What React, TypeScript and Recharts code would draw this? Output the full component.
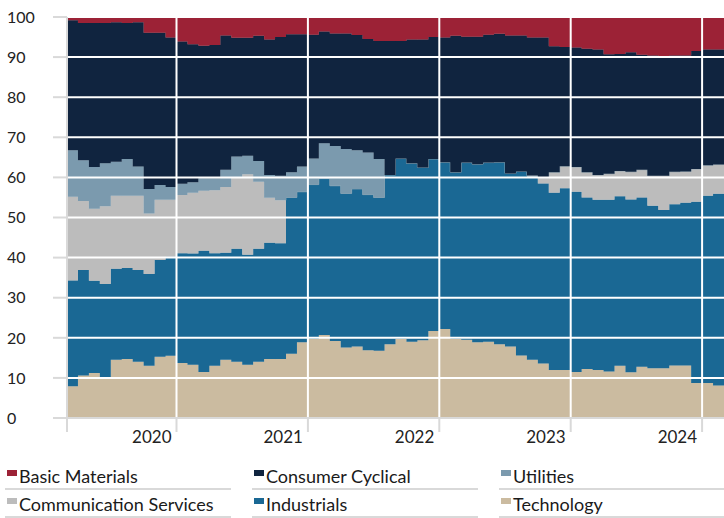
import { AreaChart, Area, XAxis, YAxis, ReferenceLine } from 'recharts';

// monthly sector weights (%), 60 months starting Mar 2019
const technology = [
  7.9, 10.6, 11.2, 10.2, 14.5, 14.7, 14.0, 13.0, 15.3, 15.5,
  13.7, 13.3, 11.5, 13.0, 14.5, 14.0, 13.3, 14.0, 14.7, 14.7,
  16.0, 18.9, 19.7, 20.7, 19.2, 17.6, 17.8, 16.9, 16.8, 18.4,
  19.7, 19.0, 19.4, 21.7, 22.2, 19.7, 19.5, 18.9, 19.0, 18.4,
  17.8, 15.6, 14.5, 13.6, 12.0, 12.0, 11.5, 12.2, 12.0, 11.6,
  13.0, 11.4, 12.8, 12.4, 12.4, 13.1, 13.1, 8.7, 8.7, 8.1,
];
const industrials = [
  26.4, 26.3, 23.0, 23.2, 22.7, 22.7, 22.9, 22.9, 24.1, 24.7,
  27.4, 27.7, 30.2, 28.1, 26.7, 28.2, 27.4, 28.2, 29.0, 28.9,
  39.0, 37.5, 38.5, 39.0, 38.7, 38.4, 39.3, 38.8, 38.2, 42.2,
  45.0, 44.5, 43.1, 42.9, 41.6, 41.6, 44.2, 44.4, 44.7, 45.4,
  43.2, 45.9, 45.7, 44.9, 44.2, 45.3, 44.9, 42.8, 42.4, 42.8,
  42.3, 43.1, 42.2, 40.5, 39.5, 40.2, 40.6, 45.2, 46.7, 47.8,
];
const communication = [
  20.9, 17.2, 18.0, 19.4, 18.2, 18.0, 18.5, 15.1, 15.0, 14.2,
  14.5, 15.2, 15.0, 15.7, 16.4, 17.8, 20.1, 16.7, 11.2, 10.7,
  0, 0, 0, 0, 0, 0, 0, 0, 0, 0,
  0, 0, 0, 0, 0, 0, 0, 0, 0, 0,
  0, 0, 0.3, 1.4, 5.1, 5.5, 6.2, 6.3, 6.2, 6.5,
  6.3, 6.9, 6.9, 7.5, 8.5, 8.1, 7.8, 8.2, 7.6, 7.3,
];
const utilities = [
  11.6, 10.2, 10.4, 10.7, 8.5, 9.2, 7.3, 6.1, 3.7, 3.2,
  2.8, 2.6, 3.1, 3.0, 4.3, 5.2, 4.6, 5.2, 5.7, 6.1,
  6.3, 6.3, 6.5, 8.8, 9.9, 11.1, 9.7, 10.5, 9.6, 0,
  0, 0, 0, 0, 0, 0, 0, 0, 0, 0,
  0, 0, 0, 0, 0, 0, 0, 0, 0, 0,
  0, 0, 0, 0, 0, 0, 0, 0, 0, 0,
];
const consumer = [
  32.4, 34.2, 35.9, 35.0, 34.8, 33.9, 36.0, 39.0, 38.0, 37.3,
  35.5, 34.4, 33.0, 33.2, 33.5, 29.6, 29.4, 31.2, 33.8, 34.6,
  34.4, 33.0, 30.9, 27.9, 28.1, 28.8, 28.7, 28.3, 29.4, 33.4,
  29.3, 30.9, 31.9, 30.4, 31.1, 34.0, 31.4, 31.8, 31.9, 32.0,
  34.4, 33.9, 34.4, 35.0, 31.4, 29.7, 29.8, 30.8, 31.3, 29.8,
  29.2, 29.8, 28.7, 30.0, 29.6, 29.0, 28.9, 29.4, 28.9, 28.7,
];
const basic = [
  0.8, 1.5, 1.5, 1.5, 1.3, 1.5, 1.3, 3.9, 3.9, 5.1,
  6.1, 6.8, 7.2, 7.0, 4.6, 5.2, 5.2, 4.7, 5.6, 5.0,
  4.3, 4.3, 4.4, 3.6, 4.1, 4.1, 4.5, 5.5, 6.0, 6.0,
  6.0, 5.6, 5.6, 5.0, 5.1, 4.7, 4.9, 4.9, 4.4, 4.2,
  4.6, 4.6, 5.1, 5.1, 7.3, 7.5, 7.6, 7.9, 8.1, 9.3,
  9.2, 8.8, 9.4, 9.6, 10.0, 9.6, 9.6, 8.5, 8.1, 8.1,
];

const yearTicks = [10, 22, 34, 46, 58];
const yearLabels = ['2020', '2021', '2022', '2023', '2024'];
const yTicks = [0, 10, 20, 30, 40, 50, 60, 70, 80, 90, 100];

const SERIES = [
  { key: 'technology', name: 'Technology', color: '#cbbba0', values: technology },
  { key: 'industrials', name: 'Industrials', color: '#1a6894', values: industrials },
  { key: 'communication', name: 'Communication Services', color: '#bcbcbc', values: communication },
  { key: 'utilities', name: 'Utilities', color: '#7b9aae', values: utilities },
  { key: 'consumer', name: 'Consumer Cyclical', color: '#10243f', values: consumer },
  { key: 'basic', name: 'Basic Materials', color: '#9c2236', values: basic },
];

// legend order as in the original (row by row)
const LEGEND = ['basic', 'consumer', 'utilities', 'communication', 'industrials', 'technology'];

// one row per month, plus a closing row so the last step has width
const data: any[] = technology.map((_, i) => {
  const row: any = { m: i };
  SERIES.forEach((s) => (row[s.key] = s.values[i]));
  return row;
});
data.push({ ...data[data.length - 1], m: technology.length });

const FONT = 'Lato, "Noto Sans", sans-serif';
const GRID = '#d9d9d9';

function YTick({ y, payload }: any) {
  return (
    <g>
      <line x1={53} x2={67} y1={y} y2={y} stroke={GRID} strokeWidth={2} />
      <text x={7} y={y} dy="0.36em" fontSize={16} fill="#222" fontFamily={FONT}>
        {payload.value}
      </text>
    </g>
  );
}

function XTick({ x, payload }: any) {
  const idx = yearTicks.indexOf(payload.value);
  return (
    <g>
      <line x1={x} x2={x} y1={418} y2={432} stroke={GRID} strokeWidth={2} />
      {idx >= 0 && (
        <text x={x - 5} y={443} textAnchor="end" fontSize={17} fill="#222" fontFamily={FONT}>
          {yearLabels[idx]}
        </text>
      )}
    </g>
  );
}

export default function App() {
  const colors: Record<string, any> = {};
  SERIES.forEach((s) => (colors[s.key] = s));

  return (
    <div style={{ position: 'absolute', left: 0, top: 0, width: 724, height: 518, background: '#fff', fontFamily: FONT }}>
      <AreaChart width={724} height={450} data={data} margin={{ top: 17, right: 0, bottom: 0, left: 0 }}>
        <XAxis
          dataKey="m"
          type="number"
          domain={[0, 60]}
          ticks={[0, ...yearTicks]}
          tick={<XTick />}
          tickLine={false}
          axisLine={{ stroke: GRID, strokeWidth: 2 }}
          height={32}
          interval={0}
        />
        <YAxis
          domain={[0, 100]}
          ticks={yTicks}
          tick={<YTick />}
          tickLine={false}
          axisLine={{ stroke: GRID, strokeWidth: 2 }}
          width={67}
          allowDataOverflow
          interval={0}
        />
        {SERIES.map((s) => (
          <Area
            key={s.key}
            dataKey={s.key}
            name={s.name}
            stackId="1"
            type="stepAfter"
            fill={s.color}
            fillOpacity={1}
            stroke={s.color}
            strokeWidth={0.5}
            isAnimationActive={false}
            dot={false}
            activeDot={false}
          />
        ))}
        {yTicks.slice(1).map((v) => (
          <ReferenceLine key={'y' + v} y={v} stroke="#fff" strokeWidth={2} />
        ))}
        {yearTicks.map((v) => (
          <ReferenceLine key={'x' + v} x={v} stroke="#fff" strokeWidth={2} />
        ))}
      </AreaChart>

      {LEGEND.map((k, i) => {
        const s = colors[k];
        const col = i % 3;
        const row = Math.floor(i / 3);
        const left = [5, 252, 499][col];
        const top = 466 + row * 28;
        return (
          <div key={k} style={{ position: 'absolute', left, top, width: 226, height: 24 }}>
            <span
              style={{
                position: 'absolute',
                left: 2,
                top: 4,
                width: 10,
                height: 6,
                background: s.color,
              }}
            />
            <span
              style={{
                position: 'absolute',
                left: 14,
                top: 0,
                fontSize: 18,
                lineHeight: '20px',
                color: '#1a1a1a',
                whiteSpace: 'nowrap',
              }}
            >
              {s.name}
            </span>
            <div
              style={{
                position: 'absolute',
                left: 0,
                right: col === 2 ? -4 : 0,
                top: 22,
                height: 2,
                background: GRID,
              }}
            />
          </div>
        );
      })}
    </div>
  );
}
